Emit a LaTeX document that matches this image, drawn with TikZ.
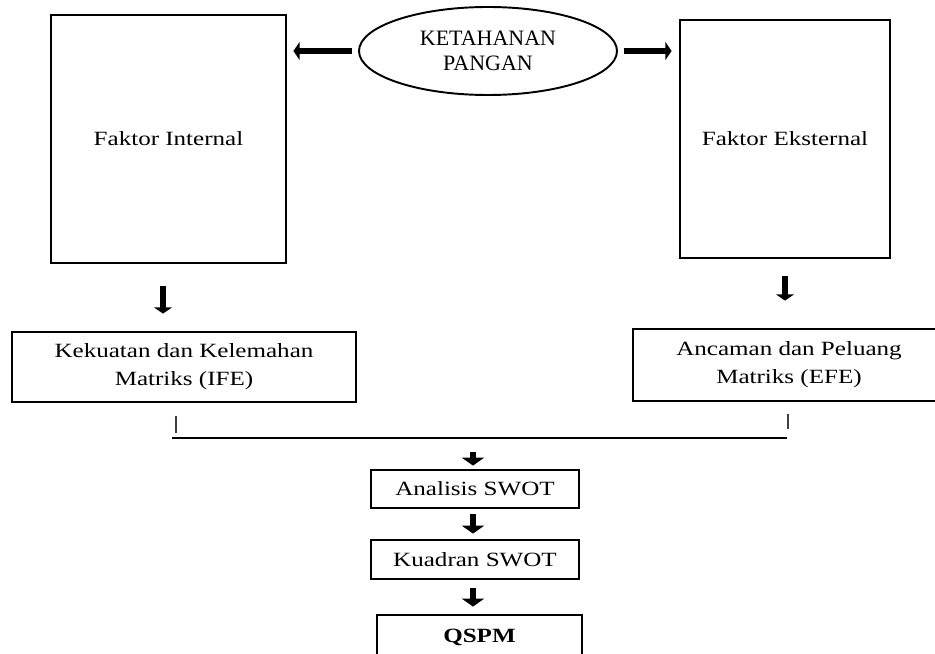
\documentclass[tikz,border=0pt]{standalone}
\usepackage{fontspec}
\setmainfont[FakeStretch=1.24]{Liberation Serif}
\newfontfamily\ovalfont{Liberation Serif}
\usepackage{tikz}
\usetikzlibrary{arrows.meta, shapes.geometric}

\begin{document}
\begin{tikzpicture}[scale=1]
  \tikzset{box/.style={draw, line width=1.6pt, align=center, inner sep=0pt, font=\fontsize{11.5}{16}\selectfont},
    oval/.style={draw, ellipse, line width=1.1pt, inner sep=0pt, align=center, font=\ovalfont\fontsize{12.5}{14.2}\selectfont},
    sidearr/.style={line width=2.9pt, -{Triangle[width=10pt, length=3.5pt]}},
    downarr/.style={line width=3.2pt, -{Triangle[width=12.5pt, length=4.5pt]}},
    tick/.style={line width=1.1pt, black!75}}
  \useasboundingbox (0,0) rectangle (18.7,-13.08);
  \clip (0,0) rectangle (18.7,-13.08);

  % Top
  \node[oval, minimum width=5.16cm, minimum height=1.76cm] (pangan) at (9.76,-1.02) {KETAHANAN\\PANGAN};
  \node[box, minimum width=4.70cm, minimum height=4.96cm] (intern) at (3.37,-2.78) {Faktor Internal};
  \node[box, minimum width=4.20cm, minimum height=4.76cm] (ekstern) at (15.70,-2.78) {Faktor Eksternal};
  \draw[sidearr, shorten <=0.12cm, shorten >=0.12cm] (pangan.west) -- (pangan.west -| intern.east);
  \draw[sidearr, shorten <=0.12cm, shorten >=0.14cm] (pangan.east) -- (pangan.east -| ekstern.west);

  % Matriks
  \node[box, minimum width=6.88cm, minimum height=1.40cm] (ife) at (3.68,-7.34) {Kekuatan dan Kelemahan\\Matriks (IFE)};
  \node[box, minimum width=6.24cm, minimum height=1.44cm] (efe) at (15.78,-7.30) {Ancaman dan Peluang\\Matriks (EFE)};
  \draw[sidearr, shorten <=0.44cm, shorten >=0.34cm] ([xshift=-0.11cm]intern.south) -- ([xshift=-0.11cm]intern.south |- ife.north);
  \draw[sidearr, shorten <=0.34cm, shorten >=0.54cm] (ekstern.south) -- (ekstern.south |- efe.north);

  % Join
  \coordinate (lineL) at (3.44,-8.76); \coordinate (lineM) at (9.46,-8.76); \coordinate (lineR) at (15.74,-8.76);
  \draw[line width=0.85pt] (lineL) -- (lineR);
  \draw[tick] ([xshift=0.08cm]lineL |- ife.south) ++(0,-0.26) -- ++(0,-0.34);
  \draw[tick] ([xshift=0.02cm]lineR |- efe.south) ++(0,-0.24) -- ++(0,-0.30);

  % SWOT
  \node[box, minimum width=4.16cm, minimum height=0.76cm] (swot) at (9.50,-9.78) {Analisis SWOT};
  \node[box, minimum width=4.16cm, minimum height=0.78cm] (kuadran) at (9.50,-11.19) {Kuadran SWOT};
  \node[box, minimum width=4.10cm, minimum height=0.90cm, font=\fontsize{11.5}{16}\selectfont\bfseries] (qspm) at (9.59,-12.75) {QSPM};
  \draw[downarr, shorten <=0.28cm, shorten >=0.06cm] (lineM) -- (lineM |- swot.north);
  \draw[downarr, shorten <=0.10cm, shorten >=0.10cm] (swot.south -| lineM) -- (kuadran.north -| lineM);
  \draw[downarr, shorten <=0.16cm, shorten >=0.14cm] (kuadran.south -| lineM) -- (qspm.north -| lineM);
\end{tikzpicture}
\end{document}
